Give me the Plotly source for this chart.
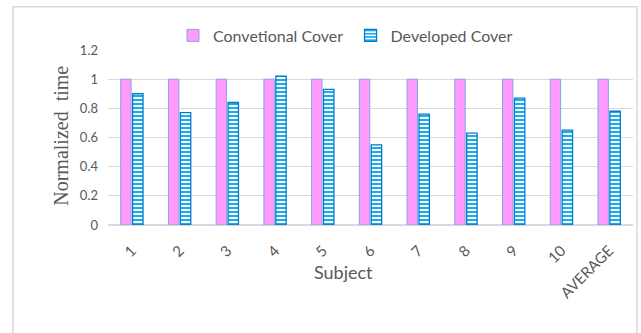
import plotly.graph_objects as go

categories = ["1", "2", "3", "4", "5", "6", "7", "8", "9", "10", "AVERAGE"]
conventional = [1, 1, 1, 1, 1, 1, 1, 1, 1, 1, 1]
developed = [0.90, 0.77, 0.84, 1.02, 0.93, 0.55, 0.76, 0.63, 0.87, 0.65, 0.78]
y_ticks = [0, 0.2, 0.4, 0.6, 0.8, 1, 1.2]
y_tick_labels = ["0", "0.2", "0.4", "0.6", "0.8", "1", "1.2"]
x_title = "Subject"
y_title = "Normalized  time"

gray = "#595959"
font_family = "Lato, 'Noto Sans', sans-serif"

fig = go.Figure()
fig.add_trace(go.Bar(
    name="Convetional Cover", x=categories, y=conventional, legend="legend",
    showlegend=True,
    marker=dict(color="#FF9BFF", line=dict(color="#7FA7E0", width=1)),
))
fig.add_trace(go.Bar(
    name="Developed Cover", x=categories, y=developed, legend="legend2",
    showlegend=True,
    marker=dict(color="#FFFFFF", line=dict(color="#0A78C8", width=1.3),
                pattern=dict(shape="-", fgcolor="#12B0EE", bgcolor="#FFFFFF",
                             size=4, solidity=0.5, fillmode="replace")),
))

legend_common = dict(orientation="h", yanchor="middle", y=1.083, xanchor="left",
                     font=dict(size=16, color=gray), bgcolor="rgba(0,0,0,0)",
                     itemwidth=30, visible=True)

fig.update_layout(
    width=641, height=333,
    margin=dict(l=108, r=8, t=50, b=108),
    paper_bgcolor="white", plot_bgcolor="white",
    showlegend=True,
    barmode="group", bargap=0.5, bargroupgap=0.13,
    font=dict(family=font_family, color=gray),
    legend=dict(x=0.1238, **legend_common),
    legend2=dict(x=0.462, **legend_common),
    xaxis=dict(
        tickangle=-45, tickfont=dict(size=15, color=gray),
        ticklabelstandoff=13, showline=False, ticks="",
    ),
    yaxis=dict(
        range=[0, 1.2], tickvals=y_ticks, ticktext=y_tick_labels,
        tickfont=dict(size=13, color=gray), ticklabelstandoff=9,
        gridcolor="#D9D9D9", gridwidth=1, zeroline=True, zerolinecolor="#D9D9D9",
        ticks="", showline=False,
    ),
    annotations=[
        dict(text=x_title, xref="paper", yref="paper", x=0.4495, y=-0.266,
             xanchor="center", yanchor="middle", showarrow=False,
             font=dict(size=18, color=gray, family=font_family)),
        dict(text=y_title, xref="paper", yref="paper", x=-0.0895, y=0.51,
             xanchor="center", yanchor="middle", showarrow=False, textangle=-90,
             font=dict(size=20, color=gray, family="'Liberation Serif', serif")),
    ],
    shapes=[dict(type="rect", xref="paper", yref="paper",
                 x0=-0.181, x1=1.0076, y0=-0.7, y1=1.247,
                 line=dict(color="#D9D9D9", width=1.5), fillcolor="rgba(0,0,0,0)",
                 layer="below")],
)

fig.write_html("out.html")
